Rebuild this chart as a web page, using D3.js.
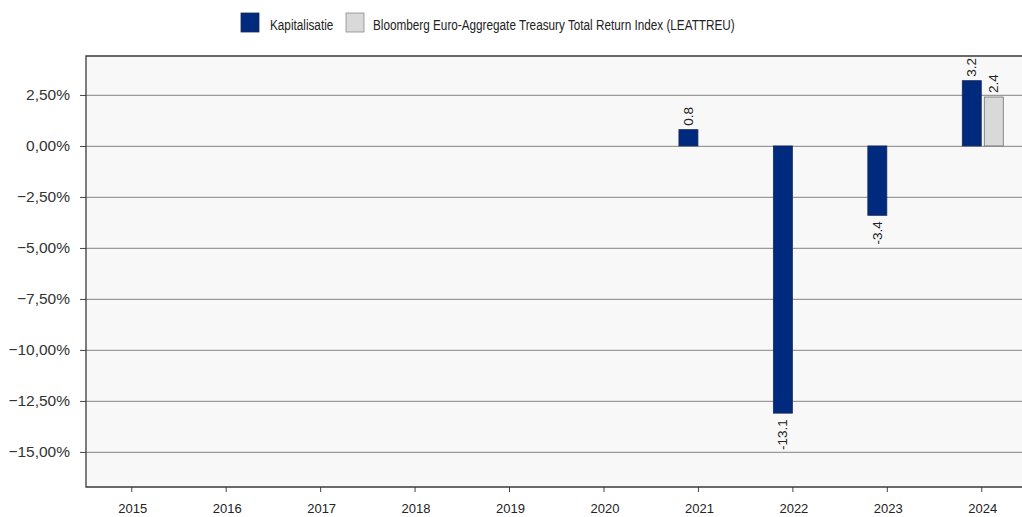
<!DOCTYPE html>
<html>
<head>
<meta charset="utf-8">
<script src="https://cdn.jsdelivr.net/npm/d3@7"></script>
<style>
  html, body { margin: 0; padding: 0; background: #ffffff; }
  svg { display: block; font-family: "Liberation Sans", Arial, sans-serif; }
</style>
</head>
<body>
<svg id="chart" width="1022" height="517"></svg>
<script>
// Yearly returns (%) per series
const years = ["2015", "2016", "2017", "2018", "2019", "2020", "2021", "2022", "2023", "2024"];
const seriesNames = ["Kapitalisatie", "Bloomberg Euro-Aggregate Treasury Total Return Index (LEATTREU)"];
const kapitalisatie = [null, null, null, null, null, null, 0.8, -13.1, -3.4, 3.2];
const leattreu = [null, null, null, null, null, null, null, null, null, 2.4];
const yTicks = [2.5, 0, -2.5, -5, -7.5, -10, -12.5, -15];
const colors = ["#002a7e", "#d9d9d9"];
const strokes = ["#1a2a55", "#6e6e6e"];

const svg = d3.select("#chart");
const plot = { left: 86, top: 56, right: 1030, bottom: 487 };

const y = d3.scaleLinear().domain([-16.72, 4.41]).range([plot.bottom, plot.top]);
const x = d3.scaleBand().domain(years).range([plot.left - 0.5, plot.right]).padding(0);
const xSub = d3.scaleBand().domain(seriesNames).range([-20.5, 20.5]).paddingInner(3 / 22);

const fmt = v => d3.format(".2f")(v).replace(".", ",") + "%";

// plot background
svg.append("rect")
  .attr("x", plot.left).attr("y", plot.top)
  .attr("width", plot.right - plot.left).attr("height", plot.bottom - plot.top)
  .attr("fill", "#f8f8f8");

// horizontal grid lines
svg.append("g")
  .attr("transform", `translate(${plot.left},0)`)
  .call(d3.axisLeft(y).tickValues(yTicks).tickSize(-(plot.right - plot.left)).tickFormat(""))
  .call(g => g.select(".domain").remove())
  .call(g => g.selectAll("line").attr("stroke", "#9a9a9a").attr("stroke-width", 1.2));

// y axis with tick labels
svg.append("g")
  .attr("transform", `translate(${plot.left},0)`)
  .call(d3.axisLeft(y).tickValues(yTicks).tickSize(6).tickPadding(10).tickFormat(fmt))
  .call(g => g.select(".domain").remove())
  .call(g => g.selectAll("line").attr("stroke", "#444"))
  .call(g => g.selectAll("text").attr("fill", "#333").attr("font-size", "15.5px"));

// x axis
svg.append("g")
  .attr("transform", `translate(0,${plot.bottom})`)
  .call(d3.axisBottom(x).tickSize(5).tickPadding(12))
  .call(g => g.select(".domain").remove())
  .call(g => g.selectAll("line").attr("stroke", "#444").attr("transform", "translate(-1,0)"))
  .call(g => g.selectAll("text").attr("fill", "#222").attr("font-size", "13px"));

// frame: top, left, bottom
svg.append("path")
  .attr("d", `M${plot.right},${plot.top}H${plot.left}V${plot.bottom}H${plot.right}`)
  .attr("fill", "none").attr("stroke", "#3a3a3a").attr("stroke-width", 1.3);

// bars
const rows = [];
years.forEach((yr, i) => {
  [kapitalisatie, leattreu].forEach((arr, s) => {
    if (arr[i] !== null) rows.push({ year: yr, s, name: seriesNames[s], value: arr[i] });
  });
});

const bars = svg.append("g");
bars.selectAll("rect").data(rows).join("rect")
  .attr("x", d => x(d.year) + x.bandwidth() / 2 + xSub(d.name))
  .attr("y", d => y(Math.max(0, d.value)))
  .attr("width", xSub.bandwidth())
  .attr("height", d => Math.abs(y(d.value) - y(0)))
  .attr("fill", d => colors[d.s])
  .attr("stroke", d => strokes[d.s])
  .attr("stroke-width", 0.8);

// rotated value labels
bars.selectAll("text").data(rows).join("text")
  .attr("transform", d => {
    const cx = x(d.year) + x.bandwidth() / 2 + xSub(d.name) + xSub.bandwidth() / 2;
    const cy = d.value >= 0 ? y(d.value) - 4 : y(d.value) + 6;
    return `translate(${cx + 4.5},${cy}) rotate(-90)`;
  })
  .attr("text-anchor", d => d.value >= 0 ? "start" : "end")
  .attr("font-size", "13.5px")
  .attr("fill", "#222")
  .text(d => String(d.value));

// legend (condensed text)
const legend = svg.append("g");
const legendItems = [
  { name: seriesNames[0], sx: 241, tx: 270 },
  { name: seriesNames[1], sx: 346, tx: 373 }
];
legendItems.forEach((it, s) => {
  legend.append("rect").attr("x", it.sx).attr("y", 13).attr("width", 18).attr("height", 19)
    .attr("fill", colors[s]).attr("stroke", s === 0 ? "#1a2a55" : "#8a8a8a").attr("stroke-width", 0.8);
  legend.append("text")
    .attr("transform", `translate(${it.tx},29.5) scale(0.81,1)`)
    .attr("font-size", "14.5px").attr("fill", "#222").text(it.name);
});
</script>
</body>
</html>
